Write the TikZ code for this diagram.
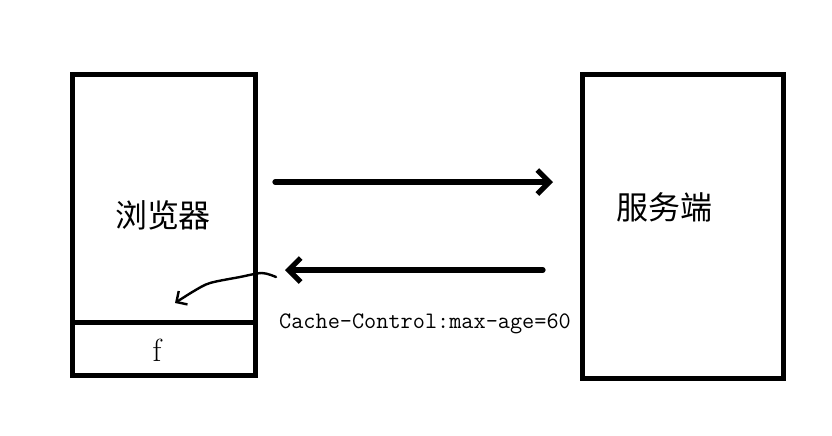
\documentclass[tikz,border=0pt]{standalone}
\usepackage{fontspec}
\newfontfamily\cjk{Noto Sans CJK SC}
\usetikzlibrary{arrows.meta}
\begin{document}
\begin{tikzpicture}[x=0.5pt,y=-0.5pt]
\tikzset{box/.style={draw=black,line width=2.5pt,inner sep=0pt,outer sep=0pt,anchor=north west},
  msg/.style={line width=2.6pt,line cap=round,-{Straight Barb[length=6pt,width=12pt]}},
  hint/.style={line width=1.2pt,line cap=round,-{Straight Barb[length=4pt,width=8pt]}}}
\useasboundingbox (0,0) rectangle (832,435);
% boxes
\node [box,minimum width=91.5pt,minimum height=124pt] (browser) at (72.5,74.5) {};
\node [box,minimum width=91.5pt,minimum height=26.5pt] (cache) at (browser.south west) {};
\node [box,minimum width=100.5pt,minimum height=152pt] (server) at (582.5,74.5) {};
% labels
\node (browser text) at (163,215) {\cjk\fontsize{16pt}{18pt}\selectfont 浏览器};
\node (server text) at (664,207) {\cjk\fontsize{16pt}{18pt}\selectfont 服务端};
\node (cache text) at (157,350) {\fontsize{16pt}{18pt}\selectfont f};
\node (header text) at (425,324) {\ttfamily\fontsize{11.8pt}{13pt}\selectfont Cache-Control:max-age=60};
% messages
\coordinate (req start) at (275,182);
\coordinate (req end) at (553,182);
\coordinate (resp start) at (543,270);
\coordinate (resp end) at (285,270);
\draw [msg] (req start) -- (req end);
\draw [msg] (resp start) -- (resp end);
% store in cache
\coordinate (store start) at (276,277);
\coordinate (store end) at (175,303);
\draw [hint] plot [smooth] coordinates {(store start) (262,273) (240,277) (210,283) (194,291) (store end)};
\end{tikzpicture}
\end{document}
